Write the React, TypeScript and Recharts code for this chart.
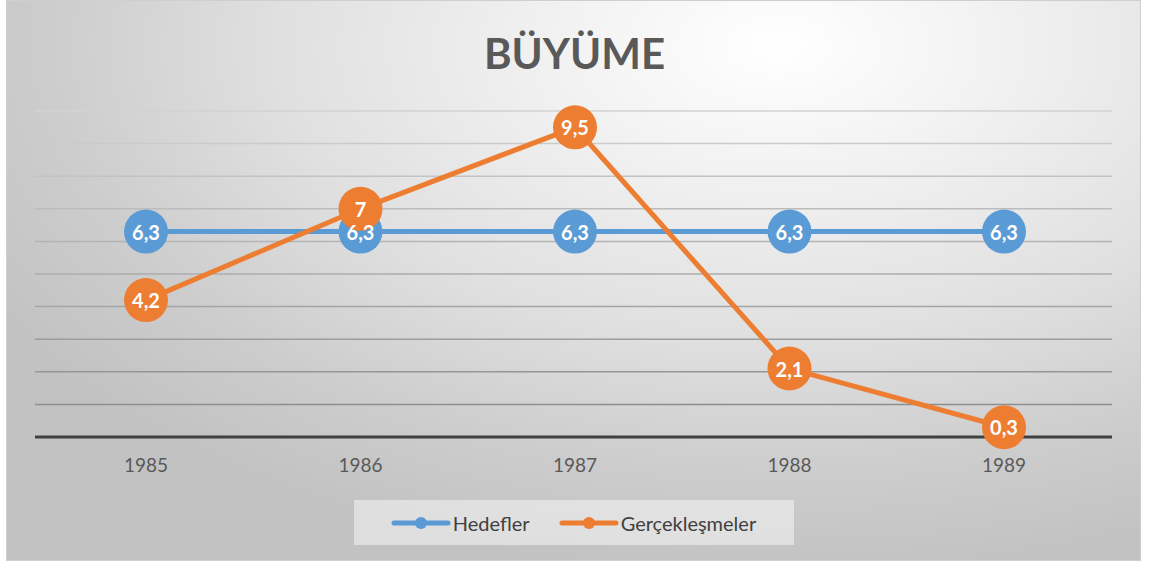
import { LineChart, Line, XAxis, YAxis, CartesianGrid, Legend, LabelList } from "recharts";

const years = ["1985", "1986", "1987", "1988", "1989"];
const hedefler = [6.3, 6.3, 6.3, 6.3, 6.3];
const gerceklesmeler = [4.2, 7, 9.5, 2.1, 0.3];
const yTicks = [0, 1, 2, 3, 4, 5, 6, 7, 8, 9, 10];

const BLUE = "#5b9bd5";
const ORANGE = "#ed7d31";
const FONT = "Lato, 'Open Sans', sans-serif";

const data = years.map((y, i) => ({
  year: y,
  hedefler: hedefler[i],
  gerceklesmeler: gerceklesmeler[i],
}));

// white bold value label centred in the big marker, comma decimals
const renderValue = (props: any) => {
  const { x, y, value } = props;
  return (
    <text
      x={x}
      y={y}
      textAnchor="middle"
      dominantBaseline="central"
      fill="#ffffff"
      fontFamily={FONT}
      fontWeight={700}
      fontSize={20}
    >
      {String(value).replace(".", ",")}
    </text>
  );
};

const LegendBox = () => {
  const items = [
    { name: "Hedefler", color: BLUE },
    { name: "Gerçekleşmeler", color: ORANGE },
  ];
  return (
    <div
      style={{
        width: 440,
        height: 45,
        margin: "0 auto",
        background: "rgba(245,245,245,0.55)",
        display: "flex",
        alignItems: "center",
        justifyContent: "center",
        gap: 29,
        fontFamily: FONT,
        fontSize: 20,
        color: "#404040",
      }}
    >
      {items.map((it) => (
        <div key={it.name} style={{ display: "flex", alignItems: "center" }}>
          <svg width={60} height={14} style={{ marginRight: 2 }}>
            <line x1={3} y1={7} x2={57} y2={7} stroke={it.color} strokeWidth={5} strokeLinecap="round" />
            <circle cx={30} cy={7} r={6} fill={it.color} />
          </svg>
          <span>{it.name}</span>
        </div>
      ))}
    </div>
  );
};

export default function App() {
  return (
    <div style={{ position: "absolute", left: 0, top: 0, width: 1150, height: 565, background: "#ffffff" }}>
      <div
        style={{
          position: "absolute",
          left: 6,
          top: 0,
          width: 1135,
          height: 561,
          boxSizing: "border-box",
          border: "1px solid #cfcfcf",
          background:
            "radial-gradient(ellipse 80% 95% at 68% 8%, #ffffff 0%, #f3f3f3 22%, #e0e0e0 55%, #cdcdcd 80%, #c2c2c2 100%)",
        }}
      >
        <div
          style={{
            position: "absolute",
            left: 0,
            top: 31,
            width: 1135,
            textAlign: "center",
            fontFamily: FONT,
            fontWeight: 700,
            fontSize: 42,
            lineHeight: "42px",
            color: "#595959",
          }}
        >
          BÜYÜME
        </div>
        <LineChart
          width={1135}
          height={561}
          data={data}
          margin={{ top: 111, right: 29, bottom: 16, left: 29 }}
          style={{ position: "absolute", left: -1, top: -1 }}
        >
          <defs>
            <linearGradient id="gridGrad" gradientUnits="userSpaceOnUse" x1="0" y1="111" x2="0" y2="405">
              <stop offset="0%" stopColor="#d2d2d2" />
              <stop offset="100%" stopColor="#8e8e8e" />
            </linearGradient>
          </defs>
          <CartesianGrid vertical={false} stroke="url(#gridGrad)" strokeWidth={1.5} />
          <YAxis hide domain={[0, 10]} ticks={yTicks} />
          <XAxis
            dataKey="year"
            height={63}
            padding={{ left: 111, right: 108 }}
            axisLine={{ stroke: "#404040", strokeWidth: 3 }}
            tickLine={false}
            tickSize={6}
            tickMargin={16}
            tick={{ fill: "#595959", fontSize: 19, fontFamily: FONT }}
          />
          <Legend verticalAlign="bottom" height={45} content={() => <LegendBox />} />
          <Line
            dataKey="hedefler"
            name="Hedefler"
            stroke={BLUE}
            strokeWidth={5}
            dot={{ r: 22, fill: BLUE, stroke: "none", strokeWidth: 0 }}
            activeDot={false}
            isAnimationActive={false}
          >
            <LabelList dataKey="hedefler" content={renderValue} />
          </Line>
          <Line
            dataKey="gerceklesmeler"
            name="Gerçekleşmeler"
            stroke={ORANGE}
            strokeWidth={5}
            dot={{ r: 22, fill: ORANGE, stroke: "none", strokeWidth: 0 }}
            activeDot={false}
            isAnimationActive={false}
          >
            <LabelList dataKey="gerceklesmeler" content={renderValue} />
          </Line>
        </LineChart>
      </div>
    </div>
  );
}
